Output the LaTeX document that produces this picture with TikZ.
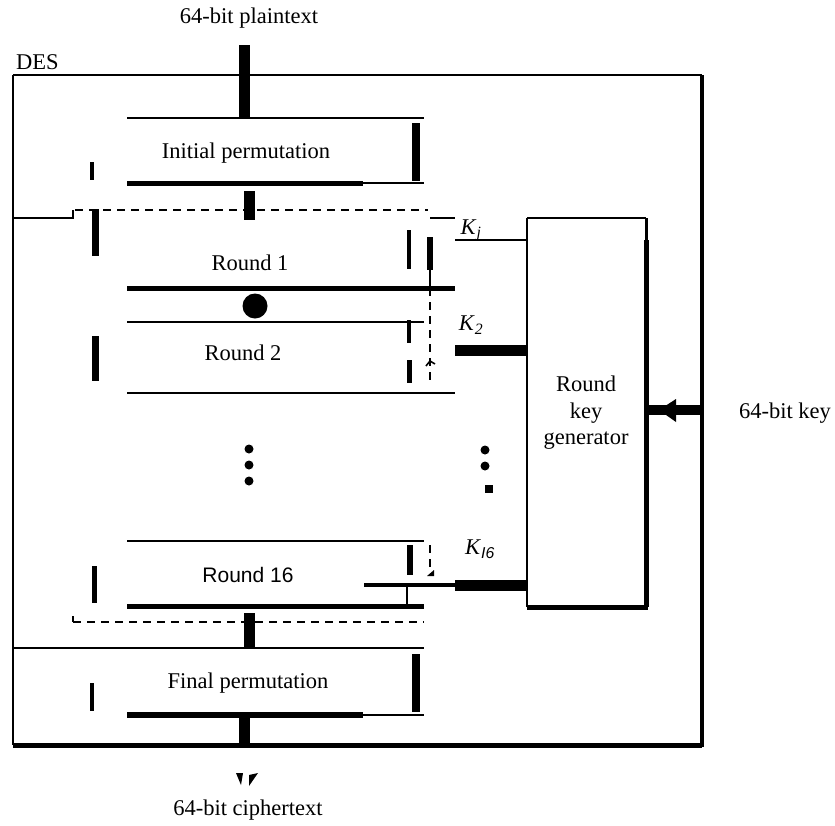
\documentclass[tikz,border=0pt]{standalone}
\usepackage{fontspec}
\setmainfont{Liberation Serif}
\setsansfont{Liberation Sans}
\usetikzlibrary{arrows.meta,positioning}

\begin{document}
\begin{tikzpicture}[x=1pt,y=-1pt,
    thinline/.style={line width=1.6pt},
    thickline/.style={line width=5pt},
    bar/.style={line width=11pt},
    dashline/.style={line width=1.6pt, dash pattern=on 8pt off 6pt},
    lbl/.style={font=\fontsize{22.5}{26.5}\selectfont, inner sep=0pt}]

    \useasboundingbox (0,0) rectangle (835,825);

    % labels
    \node[lbl] (plain) at (249,18) {64-bit plaintext};
    \node[lbl, anchor=west] (des) at (16,62) {DES};
    \node[lbl] (ip) at (246,153) {Initial permutation};
    \node[lbl] (r1) at (250,263) {Round 1};
    \node[lbl] (r2) at (243,353) {Round 2};
    \node[lbl, font=\sffamily\fontsize{21}{24}\selectfont] (r16) at (248,575) {Round 16};
    \node[lbl] (fp) at (248,683) {Final permutation};
    \node[lbl] (cipher) at (248,810) {64-bit ciphertext};
    \node[lbl, align=center] (rkg) at (586,413) {Round\\key\\generator};
    \node[lbl] (key) at (785,413) {64-bit key};
    \node[lbl] (kj) at (471,230) {\textit{K}\textsubscript{\textit{j}}};
    \node[lbl] (k2) at (471,325) {\textit{K}\textsubscript{\textit{2}}};
    \node[lbl] (k16) at (480,549) {\textit{K}\textsubscript{\sffamily\itshape I6}};

    % outer frame
    \draw[thinline] (13,75) -- (702,75);
    \draw[thinline] (13,75) -- (13,745);
    \draw[thickline] (13,745) -- (702,745);
    \draw[line width=4pt] (702,75) -- (702,747);

    % initial permutation
    \draw[bar] (244,45) -- (244,118);
    \draw[thinline] (127,118) -- (424,118);
    \draw[thickline] (127,183) -- (363,183);
    \draw[thinline] (363,183) -- (424,183);
    \draw[line width=8pt] (416,123) -- (416,181);
    \draw[line width=3.5pt] (92,162) -- (92,180);
    \draw[bar] (249,191) -- (249,220);

    % round 1
    \draw[thinline] (13,218) -- (73,218) -- (73,210);
    \draw[dashline] (75,210) -- (428,210);
    \draw[thinline] (430,218) -- (455,218);
    \draw[line width=7pt] (95,209) -- (95,256);
    \draw[thickline] (127,288) -- (455,288);
    \fill (255,306) circle (12.5);
    \draw[line width=4pt] (409,230) -- (409,269);
    \draw[line width=6pt] (430,237) -- (430,270);
    \draw[thinline] (430,270) -- (430,288);
    \draw[dashline] (430,288) -- (430,385);
    \draw[thinline] (426,366) -- (430,361) -- (435,364);

    % round 2
    \draw[thinline] (127,322) -- (424,322);
    \draw[line width=7pt] (95,336) -- (95,381);
    \draw[thinline] (127,393) -- (455,393);
    \draw[line width=3.5pt] (409,320) -- (409,343);
    \draw[line width=5pt] (409,360) -- (409,383);

    % dots
    \foreach \y in {449,465,481} \fill (249,\y) circle (4.5);
    \foreach \y in {450,466} \fill (485,\y) circle (4.5);
    \fill (485,485) rectangle (493,493);

    % round 16
    \draw[thinline] (127,541) -- (424,541);
    \draw[line width=5pt] (94,566) -- (94,603);
    \draw[thickline] (127,606) -- (424,606);
    \draw[line width=4pt] (364,585) -- (455,585);
    \draw[thinline] (407,585) -- (407,606);
    \draw[line width=6pt] (410,545) -- (410,575);
    \draw[dashline] (430,545) -- (430,572);
    \fill (427,576) -- (434,576) -- (434,570) -- cycle;

    % final permutation
    \draw[thinline] (73,616) -- (73,622);
    \draw[dashline] (73,622) -- (424,622);
    \draw[bar] (249,613) -- (249,648);
    \draw[thinline] (13,648) -- (424,648);
    \draw[line width=8pt] (416,654) -- (416,712);
    \draw[line width=4pt] (92,683) -- (92,711);
    \draw[line width=6pt] (127,715) -- (363,715);
    \draw[thinline] (363,715) -- (424,715);
    \draw[bar] (244,715) -- (244,745);
    \fill (236,773) -- (243,773) -- (241,785) -- cycle;
    \fill (249,775) -- (258,773) -- (249,786) -- cycle;

    % round key generator
    \draw[thinline] (527,218) -- (527,607);
    \draw[thinline] (527,218) -- (646,218);
    \draw[line width=3pt] (646,218) -- (646,240);
    \draw[thickline] (646,240) -- (646,607);
    \draw[thickline] (527,607) -- (648,607);
    \draw[thinline] (455,240) -- (527,240);
    \draw[bar] (455,350) -- (527,350);
    \draw[bar] (455,585) -- (527,585);
    \draw[line width=10pt] (648,410) -- (702,410);
    \fill (659,410) -- (676,399) -- (676,422) -- cycle;
\end{tikzpicture}
\end{document}
